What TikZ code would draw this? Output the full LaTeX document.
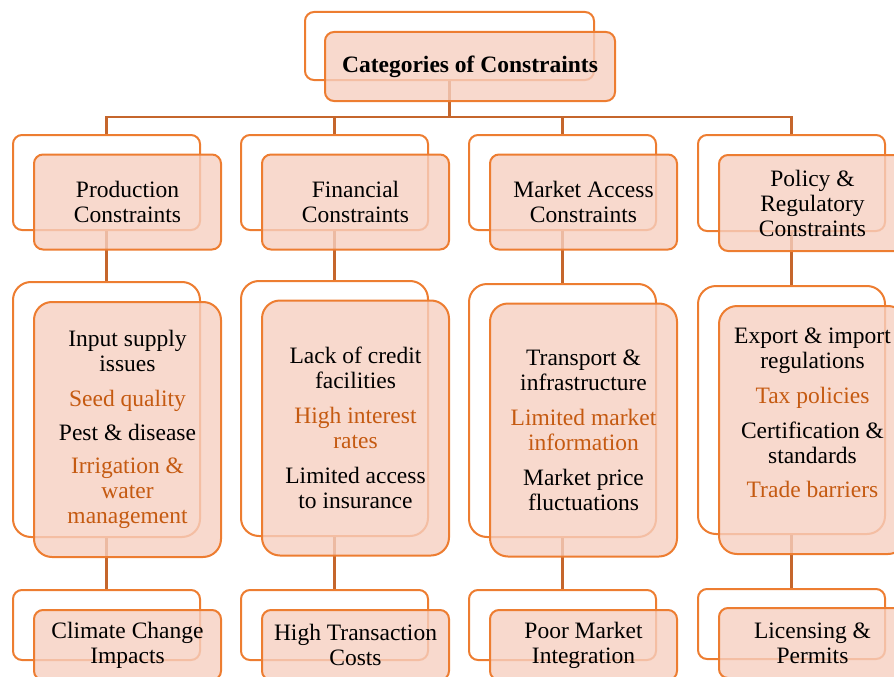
\documentclass[tikz,border=0pt]{standalone}
\usepackage{fontspec}
\setmainfont{Liberation Serif}
\definecolor{boxline}{HTML}{ED7D31}
\definecolor{boxfill}{HTML}{F6CFC0}
\definecolor{linkcol}{HTML}{C5662C}
\definecolor{itemorange}{HTML}{C55A11}
\newcommand{\hl}[1]{\textcolor{itemorange}{#1}}

\begin{document}
\begin{tikzpicture}[x=1pt,y=-1pt,
		backbox/.style={draw=boxline, line width=2pt, rounded corners=9pt, inner sep=0pt, minimum width=187pt},
		frontbox/.style={backbox, fill=boxfill, fill opacity=0.8, text opacity=1, align=center, font=\fontsize{23.5}{25}\selectfont},
		tallbox/.style={rounded corners=18pt},
		link/.style={draw=linkcol, line width=2.2pt}]
	\useasboundingbox (0,0) rectangle (894,677);
	\clip (0,0) rectangle (894,677);

	\node[backbox, minimum width=289pt, minimum height=68pt] (titleB) at (449.5,46) {};
	\node[backbox, minimum height=95pt] (prodB) at (106.5,182.5) {};
	\node[backbox, minimum height=95pt] (finB) at (334.5,182.5) {};
	\node[backbox, minimum height=95pt] (mktB) at (562.5,182.5) {};
	\node[backbox, minimum height=96pt] (polB) at (791.5,183) {};
	\node[backbox, tallbox, minimum height=255pt] (prodIssB) at (106.5,409.5) {};
	\node[backbox, tallbox, minimum height=255pt] (finIssB) at (334.5,408.5) {};
	\node[backbox, tallbox, minimum height=253pt] (mktIssB) at (562.5,410.5) {};
	\node[backbox, tallbox, minimum height=248pt] (polIssB) at (791.5,410) {};
	\node[backbox, minimum height=70pt] (prodLastB) at (106.5,625) {};
	\node[backbox, minimum height=70pt] (finLastB) at (334.5,625) {};
	\node[backbox, minimum height=70pt] (mktLastB) at (562.5,625) {};
	\node[backbox, minimum height=70pt] (polLastB) at (791.5,624) {};

	\coordinate (bus) at (449.5,117);
	\draw[link] (titleB.south) -- (bus);
	\draw[link] (prodB.north) |- (bus);
	\draw[link] (finB.north) |- (bus);
	\draw[link] (mktB.north) |- (bus);
	\draw[link] (polB.north) |- (bus);
	\path[link]
		(prodB) edge (prodIssB)
		(prodIssB) edge (prodLastB)
		(finB) edge (finIssB)
		(finIssB) edge (finLastB)
		(mktB) edge (mktIssB)
		(mktIssB) edge (mktLastB)
		(polB) edge (polIssB)
		(polIssB) edge (polLastB);

	\node[frontbox, minimum width=290pt, minimum height=69pt, font=\fontsize{23.5}{25}\selectfont\bfseries] (title) at (470,66.5) {Categories of Constraints};
	\node[frontbox, minimum height=95pt] (prod) at (127.5,202) {Production\\Constraints};
	\node[frontbox, minimum height=95pt] (fin) at (355.5,202) {Financial\\Constraints};
	\node[frontbox, minimum height=95pt] (mkt) at (583.5,202) {Market Access\\Constraints};
	\node[frontbox, minimum height=96pt] (pol) at (812.5,203) {Policy \&\\Regulatory\\Constraints};
	\node[frontbox, tallbox, minimum height=255pt] (prodIss) at (127.5,429.5) {Input supply\\issues\\[10pt]\hl{Seed quality}\\[9pt]Pest \& disease\\[8pt]\hl{Irrigation \&}\\\hl{water}\\\hl{management}};
	\node[frontbox, tallbox, minimum height=255pt] (finIss) at (355.5,428) {Lack of credit\\facilities\\[10pt]\hl{High interest}\\\hl{rates}\\[10pt]Limited access\\to insurance};
	\node[frontbox, tallbox, minimum height=253pt] (mktIss) at (583.5,430) {Transport \&\\infrastructure\\[10pt]\hl{Limited market}\\\hl{information}\\[10pt]Market price\\fluctuations};
	\node[frontbox, tallbox, minimum height=248pt] (polIss) at (812.5,430) {Export \& import\\regulations\\[10pt]\hl{Tax policies}\\[10pt]Certification \&\\standards\\[9pt]\hl{Trade barriers}\\[9pt]};
	\node[frontbox, minimum height=70pt] (prodLast) at (127.5,645) {Climate Change\\Impacts};
	\node[frontbox, minimum height=70pt] (finLast) at (355.5,645) {High Transaction\\Costs};
	\node[frontbox, minimum height=70pt] (mktLast) at (583.5,645) {Poor Market\\Integration};
	\node[frontbox, minimum height=70pt] (polLast) at (812.5,643) {Licensing \&\\Permits};
\end{tikzpicture}
\end{document}
